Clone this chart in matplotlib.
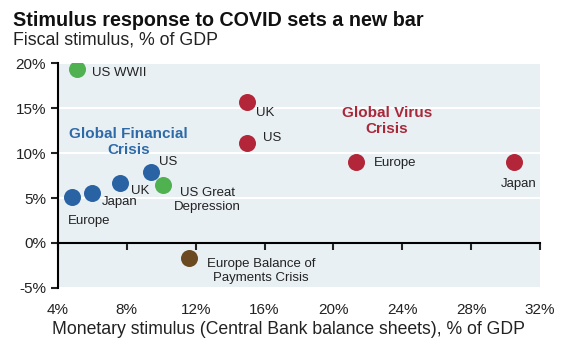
import matplotlib
matplotlib.use("Agg")
import matplotlib.pyplot as plt

plt.rcParams["font.family"] = ["Liberation Sans", "DejaVu Sans"]

# monetary (x) and fiscal (y) stimulus, % of GDP
gfc_names = ["Europe", "Japan", "UK", "US"]
gfc_x = [4.8, 6.0, 7.6, 9.4]
gfc_y = [5.1, 5.6, 6.7, 7.9]

covid_names = ["UK", "US", "Europe", "Japan"]
covid_x = [15.0, 15.0, 21.3, 30.5]
covid_y = [15.7, 11.1, 9.0, 9.0]

war_names = ["US WWII", "US Great\nDepression"]
war_x = [5.1, 10.1]
war_y = [19.4, 6.5]

bop_names = ["Europe Balance of\nPayments Crisis"]
bop_x = [11.6]
bop_y = [-1.7]

x_ticks = [4, 8, 12, 16, 20, 24, 28, 32]
y_ticks = [-5, 0, 5, 10, 15, 20]

blue = "#2a63a3"
red = "#b3263a"
green = "#4fb14f"
brown = "#6b4a22"

fig = plt.figure(figsize=(5.77, 3.49), dpi=100)
ax = fig.add_axes([0.1005, 0.175, 0.8355, 0.644])
ax.set_facecolor("#e9f0f4")

ms = 150
ax.scatter(gfc_x, gfc_y, s=ms, color=blue, zorder=3, linewidths=0)
ax.scatter(covid_x, covid_y, s=ms, color=red, zorder=3, linewidths=0)
ax.scatter(war_x, war_y, s=ms, color=green, zorder=3, linewidths=0)
ax.scatter(bop_x, bop_y, s=ms, color=brown, zorder=3, linewidths=0)

fs = 9.5
# label offsets in points: (dx, dy, ha)
gfc_off = [(-3, -17, "left"), (7, -7, "left"), (8, -6, "left"), (6, 7, "left")]
covid_off = [(6, -8, "left"), (11, 4, "left"), (13, -1, "left"), (3, -16, "center")]
war_off = [(11, -3, "left"), (32, -11, "center")]
bop_off = [(52, -9, "center")]

for names, xs, ys, offs in [(gfc_names, gfc_x, gfc_y, gfc_off),
                            (covid_names, covid_x, covid_y, covid_off),
                            (war_names, war_x, war_y, war_off),
                            (bop_names, bop_x, bop_y, bop_off)]:
    for n, x, y, (dx, dy, ha) in zip(names, xs, ys, offs):
        ax.annotate(n, (x, y), xytext=(dx, dy), textcoords="offset points",
                    ha=ha, va="center", ma="center", fontsize=fs, color="#222222",
                    linespacing=1.25)

ax.text(8.1, 11.2, "Global Financial\nCrisis", color="#2f6aa8", fontsize=11,
        fontweight="bold", ha="center", va="center", linespacing=1.15)
ax.text(23.1, 13.6, "Global Virus\nCrisis", color="#a8283a", fontsize=11,
        fontweight="bold", ha="center", va="center", linespacing=1.15)

ax.set_xlim(4, 32)
ax.set_ylim(-5, 20)
ax.set_xticks(x_ticks)
ax.set_xticklabels([f"{t}%" for t in x_ticks])
ax.set_yticks(y_ticks)
ax.set_yticklabels([f"{t}%" for t in y_ticks])

ax.grid(axis="y", color="white", lw=1.5)
ax.set_axisbelow(True)
for s in ["top", "right"]:
    ax.spines[s].set_visible(False)
ax.spines["bottom"].set_position(("data", 0))
ax.spines["bottom"].set_linewidth(1.5)
ax.spines["left"].set_linewidth(1.5)
ax.tick_params(axis="x", direction="out", length=5, width=1.5, pad=38,
               labelsize=11, colors="#222222")
ax.tick_params(axis="y", direction="out", length=5, width=1.5,
               labelsize=11, colors="#222222")

ax.set_xlabel("Monetary stimulus (Central Bank balance sheets), % of GDP",
              fontsize=12.7, color="#222222")
ax.xaxis.set_label_coords(0.478, -0.145)

fig.text(0.022, 0.925, "Stimulus response to COVID sets a new bar",
         fontsize=14.2, fontweight="bold", color="#111111")
fig.text(0.022, 0.872, "Fiscal stimulus, % of GDP", fontsize=12.8, color="#222222")

fig.savefig("out.png", dpi=100)
